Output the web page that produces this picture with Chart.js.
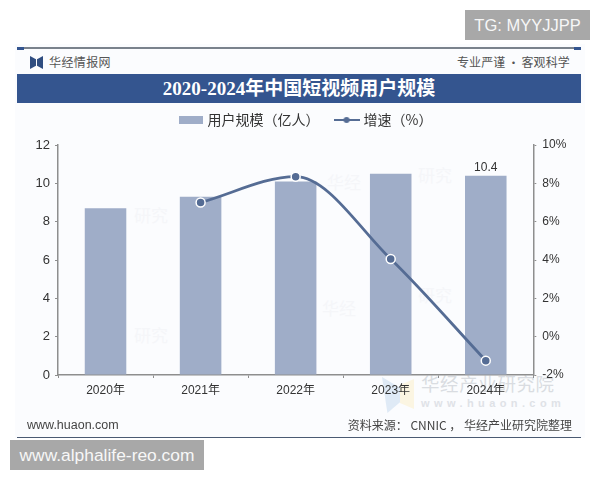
<!DOCTYPE html>
<html>
<head>
<meta charset="utf-8">
<script src="https://cdn.jsdelivr.net/npm/chart.js@4"></script>
<style>
    html, body { margin: 0; padding: 0; background: #fff; }
    #page { position: relative; width: 600px; height: 480px; overflow: hidden; font-family: "Noto Sans CJK SC", sans-serif; }
    #page > div { position: absolute; white-space: nowrap; }
    canvas { position: absolute; left: 0; top: 0; }
    .panel { left: 15px; top: 44px; width: 570px; height: 394px; background: #fbfcfe; }
    .rule { left: 17px; width: 564px; height: 2px; background: #7a828c; }
    .cap { width: 7px; height: 3px; background: #34558f; }
    .logo-l, .logo-r { top: 56px; width: 6px; height: 13px; background: #2f4d80; }
    .logo-l { left: 30px; clip-path: polygon(0 0, 100% 25%, 100% 75%, 0 100%); }
    .logo-r { left: 37px; clip-path: polygon(100% 0, 0 25%, 0 75%, 100% 100%); }
    .head { top: 53px; font-size: 12px; line-height: 17px; color: #555; letter-spacing: 0.4px; }
    .band { left: 17px; top: 74px; width: 564px; height: 29px; background: #34558f; color: #fff;
        text-align: center; font: bold 19px/29px "Liberation Serif", "Noto Sans CJK SC", serif; }
    .foot { top: 416px; font-size: 12px; line-height: 18px; color: #444; }
    .ghost { font-size: 17px; line-height: 20px; color: #f5f6f9; }
    .mark-cn { left: 421px; top: 371px; font-size: 18.5px; line-height: 24px; color: #d9dce1; letter-spacing: 0.6px; }
    .mark-en { left: 421px; top: 396px; font: bold 11px/14px "Liberation Sans", sans-serif; color: #dfe2e7; letter-spacing: 4.4px; }
    .mark-logo { left: 382px; top: 377px; width: 18px; height: 36px; background: #dfeaf6; clip-path: polygon(0 0, 100% 30%, 100% 70%, 30% 100%); }
    .mark-logo2 { left: 400px; top: 379px; width: 14px; height: 30px; background: #fbf5e2; clip-path: polygon(0 20%, 100% 0, 100% 100%, 0 80%); }
    .tag { background: #a8a8a8; color: #f7f7f7; font: 17px/30px "Liberation Sans", sans-serif; text-align: center; height: 30px; }
</style>
</head>
<body>
<div id="page">
    <div class="panel"></div>
    <div class="rule" style="top:47px"></div>
    <div class="cap" style="left:17px;top:47px"></div>
    <div class="cap" style="left:574px;top:47px"></div>
    <div class="logo-l"></div>
    <div class="logo-r"></div>
    <div class="head" style="left:49px">华经情报网</div>
    <div class="head" style="left:457px;letter-spacing:0.1px">专业严谨<b style="font-size:10px;margin:0 3px">•</b>客观科学</div>
    <div class="band">2020-2024年中国短视频用户规模</div>
    <div class="ghost" style="left:134px;top:205px">研究</div>
    <div class="ghost" style="left:134px;top:325px">研究</div>
    <div class="ghost" style="left:327px;top:172px">华经</div>
    <div class="ghost" style="left:418px;top:165px">研究</div>
    <div class="ghost" style="left:322px;top:298px">华经</div>
    <div class="ghost" style="left:418px;top:285px">研究</div>
    <div class="mark-logo"></div>
    <div class="mark-logo2"></div>
    <div class="mark-cn">华经产业研究院</div>
    <div class="mark-en">www.huaon.com</div>
    <canvas id="chart" width="600" height="480"></canvas>
    <div class="foot" style="left:27px;font-size:12.5px;font-family:'Liberation Sans',sans-serif">www.huaon.com</div>
    <div class="foot" style="right:28px">资料来源： CNNIC ， 华经产业研究院整理</div>
    <div class="rule" style="top:437px;background:#4a5a72;height:1px"></div>
    <div class="tag" style="left:465px;top:10px;width:125px;font-size:16.5px">TG: MYYJJPP</div>
    <div class="tag" style="left:10px;top:440px;width:194px;font-size:17.4px">www.alphalife-reo.com</div>
</div>
<script>
const years = ['2020年', '2021年', '2022年', '2023年', '2024年'];
const userScale = [8.7, 9.3, 10.1, 10.5, 10.4];
const growthRate = [null, 7.0, 8.35, 4.05, -1.25];
const labelledBars = [4]; // only the last bar carries its value

const barColor = '#9fadc8';
const lineColor = '#556c94';
const axisColor = '#8e8e8e';

// legend swatches, drawn once and handed to the legend as point styles
function barSwatch() {
    const c = document.createElement('canvas');
    c.width = 24; c.height = 8;
    const g = c.getContext('2d');
    g.fillStyle = barColor;
    g.fillRect(0, 0, 24, 8);
    return c;
}

function lineSwatch() {
    const c = document.createElement('canvas');
    c.width = 26; c.height = 8;
    const g = c.getContext('2d');
    g.fillStyle = lineColor;
    g.fillRect(0, 3, 26, 2);
    g.beginPath();
    g.arc(13, 4, 3, 0, Math.PI * 2);
    g.fill();
    return c;
}

const barValueLabels = {
    id: 'barValueLabels',
    afterDatasetsDraw(chart) {
        const ctx = chart.ctx;
        const meta = chart.getDatasetMeta(0);
        ctx.save();
        ctx.font = '12px "Liberation Sans", sans-serif';
        ctx.fillStyle = '#333';
        ctx.textAlign = 'center';
        labelledBars.forEach(i => {
            ctx.fillText(userScale[i].toFixed(1), meta.data[i].x, meta.data[i].y - 8);
        });
        ctx.restore();
    }
};

// the legend reserves a bit more room under itself than its own padding gives
const legendGap = {
    id: 'legendGap',
    beforeInit(chart) {
        const fit = chart.legend.fit;
        chart.legend.fit = function () {
            fit.call(this);
            this.height += 8;
        };
    }
};

new Chart(document.getElementById('chart'), {
    data: {
        labels: years,
        datasets: [
            {
                type: 'bar',
                label: '用户规模（亿人）',
                data: userScale,
                yAxisID: 'y',
                backgroundColor: barColor,
                barPercentage: 0.437,
                categoryPercentage: 1,
                order: 2
            },
            {
                type: 'line',
                label: '增速（%）',
                data: growthRate,
                yAxisID: 'y1',
                borderColor: lineColor,
                borderWidth: 2.8,
                cubicInterpolationMode: 'monotone',
                pointRadius: 4.5,
                pointBorderWidth: 1.5,
                pointBackgroundColor: lineColor,
                pointBorderColor: '#fff',
                order: 1
            }
        ]
    },
    options: {
        responsive: false,
        animation: false,
        layout: { padding: { top: 96, left: 24, right: 11, bottom: 75 } },
        plugins: {
            tooltip: { enabled: false },
            legend: {
                position: 'top',
                labels: {
                    color: '#333',
                    font: { family: '"Noto Sans CJK SC", sans-serif', size: 14 },
                    padding: 17,
                    usePointStyle: true,
                    pointStyleWidth: 20,
                    generateLabels(chart) {
                        return chart.data.datasets.map((ds, i) => ({
                            text: ds.label,
                            datasetIndex: i,
                            pointStyle: i === 0 ? barSwatch() : lineSwatch(),
                            fontColor: '#333',
                            lineWidth: 0
                        }));
                    }
                }
            }
        },
        scales: {
            x: {
                afterFit(scale) { scale.height = 30; },
                border: { color: axisColor, width: 1.5 },
                grid: { drawOnChartArea: false, color: axisColor, tickLength: 3, offset: true },
                ticks: { color: '#333', font: { family: '"Liberation Sans", "Noto Sans CJK SC", sans-serif', size: 12 }, padding: 5, maxRotation: 0 }
            },
            y: {
                position: 'left',
                min: 0,
                max: 12,
                afterFit(scale) { scale.width = 34; },
                border: { color: axisColor, width: 1.5 },
                grid: { drawOnChartArea: false, color: axisColor, tickLength: 3 },
                ticks: { stepSize: 2, color: '#333', font: { family: '"Liberation Sans", sans-serif', size: 13 }, padding: 5 }
            },
            y1: {
                position: 'right',
                min: -2,
                max: 10,
                afterFit(scale) { scale.width = 55.7; },
                border: { color: axisColor, width: 1.5 },
                grid: { drawOnChartArea: false, color: axisColor, tickLength: 3 },
                ticks: { stepSize: 2, color: '#333', font: { family: '"Liberation Sans", sans-serif', size: 12 }, padding: 6, callback: v => v + '%' }
            }
        }
    },
    plugins: [barValueLabels, legendGap]
});
</script>
</body>
</html>
